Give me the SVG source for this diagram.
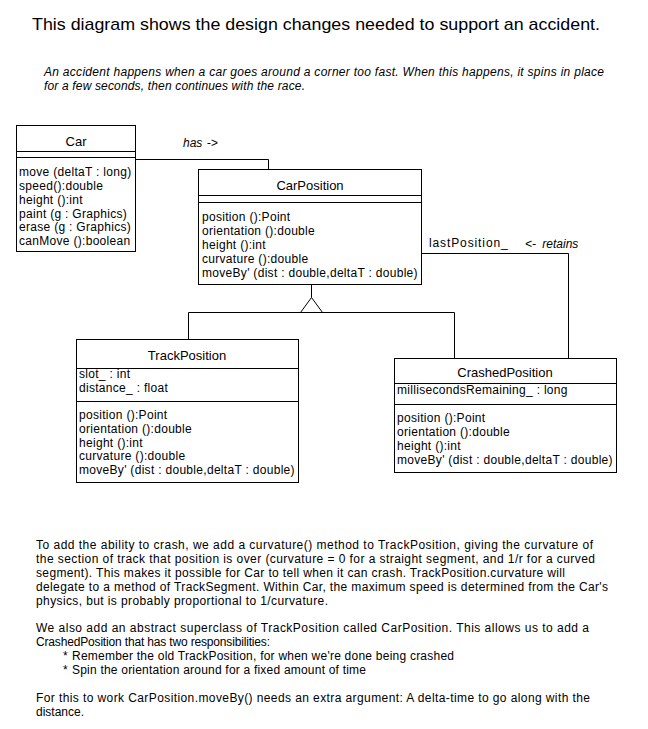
<svg xmlns="http://www.w3.org/2000/svg" width="648" height="729" viewBox="0 0 648 729">
<style>
text{font-family:"Liberation Sans",Arial,sans-serif;fill:#000}
.t{font-size:17px}
.i{font-size:12px;font-style:italic}
.b{font-size:12px}
.n{font-size:13px;text-anchor:middle}
.m{font-size:12px;letter-spacing:0.3px}
.box{fill:#fff;stroke:#000;stroke-width:1}
.ln{fill:none;stroke:#000;stroke-width:1}
</style>
<rect width="648" height="729" fill="#fff"/>
<text class="t" x="32" y="30" textLength="568" lengthAdjust="spacingAndGlyphs">This diagram shows the design changes needed to support an accident.</text>
<text class="i" x="44" y="76" textLength="560" lengthAdjust="spacing">An accident happens when a car goes around a corner too fast.  When this happens, it spins in place</text>
<text class="i" x="44" y="90" textLength="261" lengthAdjust="spacing">for a few seconds, then continues with the race.</text>

<g id="connectors">
<polyline class="ln" points="135.5,159.5 268.5,159.5 268.5,169.5"/>
<line class="ln" x1="311.5" y1="284.5" x2="311.5" y2="297.5"/>
<polygon class="ln" points="311.5,297.5 300.5,312.5 322.5,312.5"/>
<polyline class="ln" points="188.5,339.5 188.5,312.5 454.5,312.5 454.5,358.5"/>
<polyline class="ln" points="421.5,253.5 568.5,253.5 568.5,358.5"/>
<text class="i" x="183" y="147" font-size="13">has <tspan dx="1">-&gt;</tspan></text>
<text class="m" x="429" y="247" textLength="79" lengthAdjust="spacing">lastPosition_</text>
<text class="i" x="525" y="248" font-size="13">&lt;- <tspan dx="3">retains</tspan></text>
</g>

<g id="Car">
<rect class="box" x="16.5" y="125.5" width="119" height="126"/>
<line class="ln" x1="16.5" y1="151.5" x2="135.5" y2="151.5"/>
<line class="ln" x1="16.5" y1="157.5" x2="135.5" y2="157.5"/>
<text class="n" x="76" y="146">Car</text>
<text class="m" x="19" y="176">move (deltaT : long)</text>
<text class="m" x="19" y="190">speed():double</text>
<text class="m" x="19" y="204">height ():int</text>
<text class="m" x="19" y="218">paint (g : Graphics)</text>
<text class="m" x="19" y="231">erase (g : Graphics)</text>
<text class="m" x="19" y="245">canMove ():boolean</text>
</g>

<g id="CarPosition">
<rect class="box" x="198.5" y="169.5" width="223" height="115"/>
<line class="ln" x1="198.5" y1="195.5" x2="421.5" y2="195.5"/>
<line class="ln" x1="198.5" y1="202.5" x2="421.5" y2="202.5"/>
<text class="n" x="310" y="190">CarPosition</text>
<text class="m" x="202" y="221">position ():Point</text>
<text class="m" x="202" y="235">orientation ():double</text>
<text class="m" x="202" y="249">height ():int</text>
<text class="m" x="202" y="263">curvature ():double</text>
<text class="m" x="202" y="277">moveBy' (dist : double,deltaT : double)</text>
</g>

<g id="TrackPosition">
<rect class="box" x="76.5" y="339.5" width="222" height="143"/>
<line class="ln" x1="76.5" y1="368.5" x2="298.5" y2="368.5"/>
<line class="ln" x1="76.5" y1="401.5" x2="298.5" y2="401.5"/>
<text class="n" x="187" y="360">TrackPosition</text>
<text class="m" x="79" y="378">slot_ : int</text>
<text class="m" x="79" y="392">distance_ : float</text>
<text class="m" x="79" y="419">position ():Point</text>
<text class="m" x="79" y="433">orientation ():double</text>
<text class="m" x="79" y="447">height ():int</text>
<text class="m" x="79" y="460">curvature ():double</text>
<text class="m" x="79" y="474">moveBy' (dist : double,deltaT : double)</text>
</g>

<g id="CrashedPosition">
<rect class="box" x="394.5" y="358.5" width="222" height="114"/>
<line class="ln" x1="394.5" y1="383.5" x2="616.5" y2="383.5"/>
<line class="ln" x1="394.5" y1="404.5" x2="616.5" y2="404.5"/>
<text class="n" x="505" y="377">CrashedPosition</text>
<text class="m" x="397" y="394">millisecondsRemaining_ : long</text>
<text class="m" x="397" y="422">position ():Point</text>
<text class="m" x="397" y="436">orientation ():double</text>
<text class="m" x="397" y="450">height ():int</text>
<text class="m" x="397" y="464">moveBy' (dist : double,deltaT : double)</text>
</g>

<g id="notes">
<text class="b" x="36" y="549" textLength="557" lengthAdjust="spacing">To add the ability to crash, we add a curvature()  method to TrackPosition, giving the curvature of</text>
<text class="b" x="36" y="563" textLength="559" lengthAdjust="spacing">the section of track that position is over (curvature = 0 for a straight segment, and 1/r for a curved</text>
<text class="b" x="36" y="577" textLength="529" lengthAdjust="spacing">segment).  This makes it possible for Car to tell when it can crash.  TrackPosition.curvature will</text>
<text class="b" x="36" y="591" textLength="572" lengthAdjust="spacing">delegate to a method of TrackSegment.  Within Car, the maximum speed is determined from the Car's</text>
<text class="b" x="36" y="605" textLength="292" lengthAdjust="spacing">physics, but is probably proportional to 1/curvature.</text>
<text class="b" x="36" y="632" textLength="553" lengthAdjust="spacing">We also add an abstract superclass of TrackPosition called CarPosition.  This allows us to add a</text>
<text class="b" x="36" y="646" textLength="234" lengthAdjust="spacing">CrashedPosition that has two responsibilities:</text>
<text class="b" x="63" y="660">*</text>
<text class="b" x="72" y="660" textLength="382" lengthAdjust="spacing">Remember the old TrackPosition, for when we're done being crashed</text>
<text class="b" x="63" y="674">*</text>
<text class="b" x="72" y="674" textLength="294" lengthAdjust="spacing">Spin the orientation around for a fixed amount of time</text>
<text class="b" x="36" y="702" textLength="554" lengthAdjust="spacing">For this to work CarPosition.moveBy() needs an extra argument:  A delta-time to go along with the</text>
<text class="b" x="36" y="716">distance.</text>
</g>
</svg>
